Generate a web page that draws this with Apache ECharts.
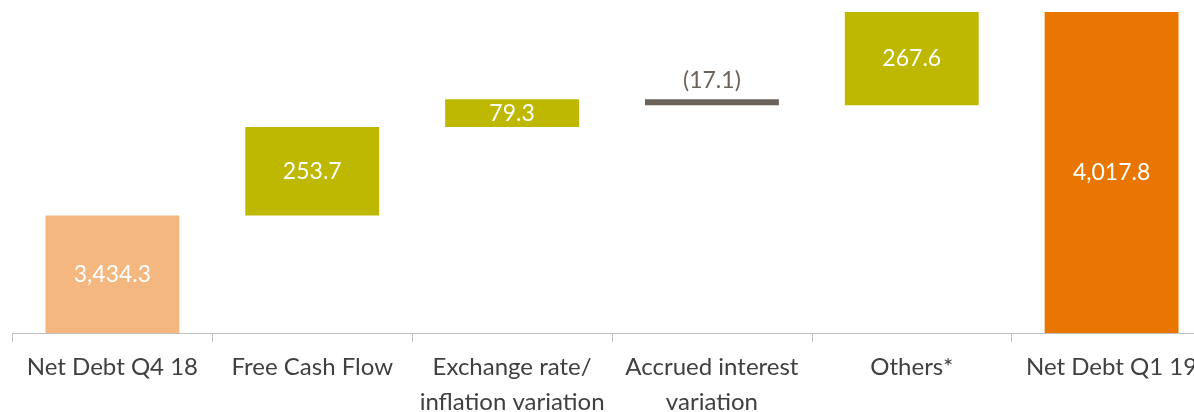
<!DOCTYPE html>
<html>
<head>
<meta charset="utf-8">
<script src="https://cdn.jsdelivr.net/npm/echarts@6/dist/echarts.min.js"></script>
<style>
  html, body { margin: 0; padding: 0; background: #fff; }
  #chart { width: 1194px; height: 412px; }
</style>
</head>
<body>
<div id="chart"></div>
<script>
// waterfall data
const categories = ['Net Debt Q4 18', 'Free Cash Flow', 'Exchange rate/\ninflation variation', 'Accrued interest\nvariation', 'Others*', 'Net Debt Q1 19']
const changes = [3434.3, 253.7, 79.3, -17.1, 267.6, 4017.8]
const isTotal = [true, false, false, false, false, true]

const COLOR = {
  START: '#F4B77F',
  UP: '#BFB800',
  DOWN: '#6B635B',
  END: '#E97600'
}

// build invisible base + visible part
let running = 0
let baseData = []
let barData = []
changes.forEach(function (v, i) {
  if (isTotal[i]) {
    baseData.push(0)
    barData.push({ value: v, raw: v, color: i === 0 ? COLOR.START : COLOR.END })
    running = v
  } else {
    let low = v >= 0 ? running : running + v
    baseData.push(low)
    barData.push({ value: Math.abs(v), raw: v, color: v >= 0 ? COLOR.UP : COLOR.DOWN })
    running += v
  }
})

function fmt(v) {
  let s = Math.abs(v).toFixed(1).replace(/\B(?=(\d{3})+(?!\d))/g, ',')
  return v < 0 ? '(' + s + ')' : s
}

let myChart = echarts.init(document.getElementById('chart'))
let option = {
  animation: false,
  grid: { left: 12.5, width: 1199, top: 0, bottom: 79, outerBoundsMode: 'none', containLabel: false },
  xAxis: {
    type: 'category',
    data: categories,
    axisLine: { lineStyle: { color: '#BFBFBF', width: 1 } },
    axisTick: { show: true, length: 9, lineStyle: { color: '#BFBFBF' } },
    axisLabel: {
      interval: 0,
      margin: 17,
      color: '#404040',
      fontFamily: 'Lato',
      fontSize: 24,
      lineHeight: 35
    }
  },
  yAxis: {
    type: 'value',
    min: 3097,
    max: 4052,
    show: false,
    splitLine: { show: false }
  },
  series: [
    {
      type: 'bar',
      stack: 'wf',
      silent: true,
      itemStyle: { color: 'transparent' },
      data: baseData
    },
    {
      type: 'bar',
      stack: 'wf',
      barCategoryGap: '33%',
      data: barData.map(function (d) {
        return {
          value: d.value,
          itemStyle: { color: d.color },
          label: d.raw < 0 ? {
            position: 'top',
            distance: 7,
            color: '#6B635B'
          } : {
            position: 'inside',
            color: '#FFFFFF'
          }
        }
      }),
      label: {
        show: true,
        fontFamily: 'Lato',
        fontSize: 23,
        formatter: function (p) {
          return fmt(barData[p.dataIndex].raw)
        }
      }
    }
  ]
}
myChart.setOption(option)
</script>
</body>
</html>
